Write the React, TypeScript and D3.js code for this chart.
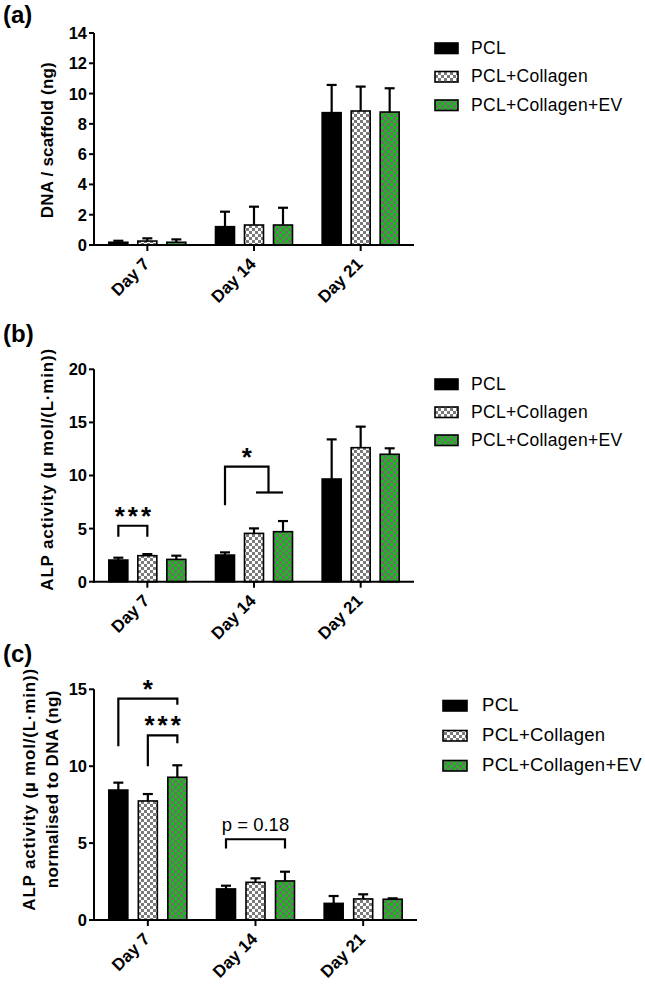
import React from 'react';
import * as d3 from 'd3';

const FONT = '"Liberation Sans", Arial, Helvetica, sans-serif';

// categories
const days = ['Day 7', 'Day 14', 'Day 21'];
const groups = ['PCL', 'PCL+Collagen', 'PCL+Collagen+EV'];

// (a) DNA / scaffold (ng)
const dnaPCL = [0.18, 1.21, 8.74];
const dnaPCLErr = [0.1, 0.99, 1.83];
const dnaCol = [0.26, 1.32, 8.85];
const dnaColErr = [0.18, 1.21, 1.61];
const dnaEV = [0.18, 1.32, 8.78];
const dnaEVErr = [0.19, 1.14, 1.57];
const ticksA = [0, 2, 4, 6, 8, 10, 12, 14];

// (b) ALP activity
const alpPCL = [2.04, 2.51, 9.67];
const alpPCLErr = [0.22, 0.25, 3.73];
const alpCol = [2.45, 4.55, 12.62];
const alpColErr = [0.15, 0.47, 1.98];
const alpEV = [2.1, 4.71, 12.0];
const alpEVErr = [0.35, 1.0, 0.56];
const ticksB = [0, 5, 10, 15, 20];

// (c) ALP normalised to DNA
const normPCL = [8.45, 2.02, 1.08];
const normPCLErr = [0.48, 0.21, 0.48];
const normCol = [7.74, 2.45, 1.37];
const normColErr = [0.45, 0.26, 0.3];
const normEV = [9.28, 2.54, 1.35];
const normEVErr = [0.78, 0.6, 0.06];
const ticksC = [0, 5, 10, 15];

// significance annotations (day index, group indices, bracket heights in data units)
const sigB = [
  { day: 0, a: 0, b: [1], top: 5.27, legA: 4.24, legB: 4.24, label: '***' },
  { day: 1, a: 0, b: [1, 2], top: 10.83, legA: 7.2, legB: 8.4, label: '*' },
];
const sigC = [
  { day: 0, a: 0, b: [2], top: 14.4, legA: 11.3, legB: 14.0, label: '*' },
  { day: 0, a: 1, b: [2], top: 12.0, legA: 10.0, legB: 11.5, label: '***' },
  { day: 1, a: 0, b: [2], top: 5.25, legA: 4.65, legB: 4.65, label: 'p = 0.18' },
];

const fills = ['#000000', 'url(#chk)', 'url(#grn)'];

type Cfg = {
  tag: string;
  tagY: number;
  yMax: number;
  ticks: number[];
  y0: number;
  yTop: number;
  xL: number;
  xR: number;
  off: number;
  means: number[][];
  errs: number[][];
  yLabel: string[];
  yLabelX: number[];
  yLabelLs: number[];
  yLabelY: number;
  legX: number;
  legTextX: number;
  legY: number[];
  legFont: number;
  legW: number;
  sig: any[];
};

function Panel({ cfg }: { cfg: Cfg }) {
  const y = d3.scaleLinear().domain([0, cfg.yMax]).range([cfg.y0, cfg.yTop]);
  const x = d3.scaleBand().domain(days).range([cfg.xL, cfg.xR]);
  const xg = d3.scalePoint().domain(groups).range([-cfg.off, cfg.off]);
  const cx = (di: number, gi: number) =>
    (x(days[di]) as number) + x.bandwidth() / 2 + (xg(groups[gi]) as number);
  const bw = 19;
  const cap = 5;
  return (
    <g>
      <text x={3} y={cfg.tagY} fontSize={24} fontWeight="bold" fontFamily={FONT}>
        {cfg.tag}
      </text>
      {/* y label */}
      {cfg.yLabel.map((t, i) => (
        <text
          key={i}
          transform={`translate(${cfg.yLabelX[i]},${cfg.yLabelY + cfg.yLabelLs[i] / 2}) rotate(-90)`}
          textAnchor="middle"
          fontSize={17}
          fontWeight="bold"
          letterSpacing={cfg.yLabelLs[i]}
          fontFamily={FONT}
        >
          {t}
        </text>
      ))}
      {/* error bars */}
      {groups.map((g, gi) =>
        days.map((d, di) => {
          const v = cfg.means[gi][di];
          const e = cfg.errs[gi][di];
          const px = cx(di, gi);
          return (
            <g key={`e${gi}-${di}`} stroke="#000" strokeWidth={2.2}>
              <line x1={px} x2={px} y1={y(v)} y2={y(v + e)} />
              <line x1={px - cap} x2={px + cap} y1={y(v + e)} y2={y(v + e)} />
            </g>
          );
        })
      )}
      {/* bars */}
      {groups.map((g, gi) =>
        days.map((d, di) => {
          const v = cfg.means[gi][di];
          const px = cx(di, gi);
          return (
            <rect
              key={`b${gi}-${di}`}
              x={px - bw / 2}
              y={y(v)}
              width={bw}
              height={y(0) - y(v)}
              fill={fills[gi]}
              stroke="#000"
              strokeWidth={1.6}
            />
          );
        })
      )}
      {/* y axis */}
      <line x1={cfg.xL} x2={cfg.xL} y1={y(0) + 1} y2={y(cfg.yMax)} stroke="#000" strokeWidth={2} />
      {cfg.ticks.map((t) => (
        <g key={`t${t}`}>
          <line x1={cfg.xL - 5} x2={cfg.xL} y1={y(t)} y2={y(t)} stroke="#000" strokeWidth={2} />
          <text
            x={cfg.xL - 7}
            y={y(t)}
            dy="0.36em"
            textAnchor="end"
            fontSize={16.5}
            fontWeight="bold"
            fontFamily={FONT}
          >
            {t}
          </text>
        </g>
      ))}
      {/* x axis */}
      <line x1={cfg.xL - 1} x2={cfg.xR} y1={y(0)} y2={y(0)} stroke="#000" strokeWidth={2} />
      {days.map((d) => {
        const px = (x(d) as number) + x.bandwidth() / 2;
        return (
          <g key={d}>
            <line x1={px} x2={px} y1={y(0)} y2={y(0) + 6} stroke="#000" strokeWidth={2} />
            <text
              transform={`translate(${px + 3},${y(0) + 20}) rotate(-45)`}
              textAnchor="end"
              fontSize={17}
              fontWeight="bold"
              fontFamily={FONT}
            >
              {d}
            </text>
          </g>
        );
      })}
      {/* significance */}
      {cfg.sig.map((s, i) => {
        const xa = cx(s.day, s.a);
        const xbs = s.b.map((gi: number) => cx(s.day, gi));
        const xb = d3.mean(xbs) as number;
        const yt = y(s.top);
        const isStar = s.label.indexOf('*') >= 0;
        const ls = isStar ? 3 : 0;
        return (
          <g key={`s${i}`}>
            <path
              d={`M${xa},${y(s.legA)}V${yt}H${xb}V${y(s.legB)}`}
              fill="none"
              stroke="#000"
              strokeWidth={2.2}
            />
            {xbs.length > 1 && (
              <line
                x1={xbs[0] + 2}
                x2={xbs[xbs.length - 1]}
                y1={y(s.legB)}
                y2={y(s.legB)}
                stroke="#000"
                strokeWidth={2.2}
              />
            )}
            <text
              x={(xa + xb) / 2 + ls / 2}
              y={isStar ? yt - 1 : yt - 8}
              textAnchor="middle"
              fontSize={isStar ? 26 : 18.5}
              fontWeight={isStar ? 'bold' : 'normal'}
              letterSpacing={ls}
              fontFamily={FONT}
            >
              {s.label}
            </text>
          </g>
        );
      })}
      {/* legend */}
      {groups.map((g, gi) => (
        <g key={`l${gi}`}>
          <rect
            x={cfg.legX}
            y={cfg.legY[gi] - 10.5}
            width={cfg.legW}
            height={10.5}
            fill={fills[gi]}
            stroke="#000"
            strokeWidth={1.6}
          />
          <text
            x={cfg.legTextX}
            y={cfg.legY[gi]}
            fontSize={cfg.legFont}
            letterSpacing={0.3}
            fontFamily={FONT}
          >
            {g}
          </text>
        </g>
      ))}
    </g>
  );
}

export default function App() {
  const panels: Cfg[] = [
    {
      tag: '(a)',
      tagY: 23,
      yMax: 14,
      ticks: ticksA,
      y0: 245,
      yTop: 33,
      xL: 94,
      xR: 414,
      off: 29,
      means: [dnaPCL, dnaCol, dnaEV],
      errs: [dnaPCLErr, dnaColErr, dnaEVErr],
      yLabel: ['DNA / scaffold (ng)'],
      yLabelX: [53],
      yLabelLs: [0.2],
      yLabelY: 140,
      legX: 435,
      legTextX: 471,
      legY: [53.5, 82, 110.5],
      legFont: 17.5,
      legW: 23,
      sig: [],
    },
    {
      tag: '(b)',
      tagY: 342,
      yMax: 20,
      ticks: ticksB,
      y0: 581.7,
      yTop: 369.3,
      xL: 94,
      xR: 414,
      off: 29,
      means: [alpPCL, alpCol, alpEV],
      errs: [alpPCLErr, alpColErr, alpEVErr],
      yLabel: ['ALP activity (\u00b5 mol/(L\u00b7min))'],
      yLabelX: [53],
      yLabelLs: [0.8],
      yLabelY: 469,
      legX: 435,
      legTextX: 471,
      legY: [389.5, 417.5, 445.5],
      legFont: 17.5,
      legW: 23,
      sig: sigB,
    },
    {
      tag: '(c)',
      tagY: 662,
      yMax: 15,
      ticks: ticksC,
      y0: 920,
      yTop: 689.3,
      xL: 94,
      xR: 417,
      off: 29.5,
      means: [normPCL, normCol, normEV],
      errs: [normPCLErr, normColErr, normEVErr],
      yLabel: ['ALP activity (\u00b5 mol/(L\u00b7min))', 'normalised to DNA (ng)'],
      yLabelX: [35, 58],
      yLabelLs: [0.8, 0.4],
      yLabelY: 789,
      legX: 443,
      legTextX: 482,
      legY: [711, 741, 771],
      legFont: 18.5,
      legW: 24,
      sig: sigC,
    },
  ];
  return (
    <div style={{ position: 'absolute', left: 0, top: 0 }}>
      <svg width={645} height={986} viewBox="0 0 645 986" style={{ display: 'block', background: '#fff' }}>
        <defs>
          <pattern id="chk" width={6} height={6} patternUnits="userSpaceOnUse">
            <rect width={6} height={6} fill="#ffffff" />
            <rect width={3} height={3} fill="#7a7a7a" />
            <rect x={3} y={3} width={3} height={3} fill="#7a7a7a" />
          </pattern>
          <pattern id="grn" width={6} height={6} patternUnits="userSpaceOnUse">
            <rect width={6} height={6} fill="#14c014" />
            <rect width={3} height={3} fill="#6e6e6e" />
            <rect x={3} y={3} width={3} height={3} fill="#6e6e6e" />
          </pattern>
        </defs>
        <rect width={645} height={986} fill="#fff" />
        {panels.map((p) => (
          <Panel key={p.tag} cfg={p} />
        ))}
      </svg>
    </div>
  );
}
